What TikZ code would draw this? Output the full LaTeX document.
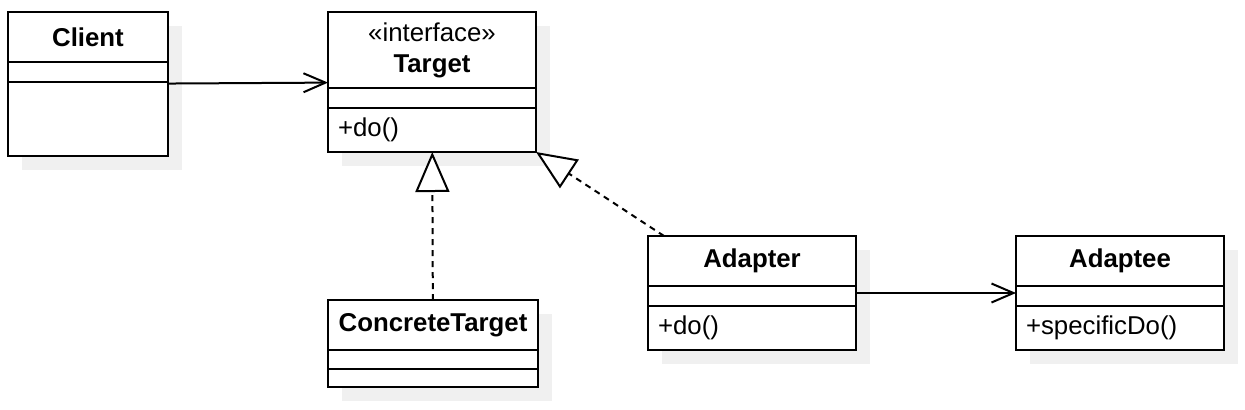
\documentclass[tikz,border=0pt]{standalone}
\usepackage{fontspec}
\setmainfont{Liberation Sans}
\usetikzlibrary{arrows.meta, positioning, shadows}

\begin{document}
\begin{tikzpicture}[
        x=0.5pt, y=-0.5pt,
        font=\fontsize{12.9pt}{15.5pt}\selectfont,
        classbox/.style={draw, fill=white, line width=1pt, inner sep=0pt, outer sep=0pt,
            drop shadow={shadow xshift=7pt, shadow yshift=-7pt, fill=black!6, opacity=1}},
        compart/.style={draw, line width=1pt, inner sep=0pt, outer sep=0pt},
        members/.style={inner xsep=5pt, inner ysep=0pt, outer sep=0pt, align=left},
        assoc/.style={line width=1pt, -{Straight Barb[length=11pt, width=9.5pt]}},
        realize/.style={line width=1pt, dash pattern=on 3pt off 2.5pt,
            -{Triangle[length=20pt, width=17pt, fill=white]}}
    ]
    \useasboundingbox (0,0) rectangle (1245,409);
    % Define classes
    \node[classbox, minimum width=80pt, minimum height=72pt] (client) at (88,84) {};
    \node[compart, minimum width=80pt, minimum height=25pt, below=0pt of client.north] (client-name) {\textbf{Client}};
    \node[compart, minimum width=80pt, minimum height=10pt, below=0pt of client-name] (client-attr) {};

    \node[classbox, minimum width=104pt, minimum height=70pt] (target) at (432,82) {};
    \node[compart, minimum width=104pt, minimum height=38pt, align=center, below=0pt of target.north] (target-name) {«interface»\\\textbf{Target}};
    \node[compart, minimum width=104pt, minimum height=10pt, below=0pt of target-name] (target-attr) {};
    \node[members, text width=94pt, minimum height=22pt, below=0pt of target-attr] (target-ops) {+do()};

    \node[classbox, minimum width=105pt, minimum height=43.5pt] (concrete) at (433,343.5) {};
    \node[compart, minimum width=105pt, minimum height=25pt, below=0pt of concrete.north] (concrete-name) {\textbf{ConcreteTarget}};
    \node[compart, minimum width=105pt, minimum height=9.5pt, below=0pt of concrete-name] (concrete-attr) {};

    \node[classbox, minimum width=104pt, minimum height=57pt] (adapter) at (752,293) {};
    \node[compart, minimum width=104pt, minimum height=25pt, below=0pt of adapter.north] (adapter-name) {\textbf{Adapter}};
    \node[compart, minimum width=104pt, minimum height=10pt, below=0pt of adapter-name] (adapter-attr) {};
    \node[members, text width=94pt, minimum height=22pt, below=0pt of adapter-attr] (adapter-ops) {+do()};

    \node[classbox, minimum width=104pt, minimum height=57pt] (adaptee) at (1120,293) {};
    \node[compart, minimum width=104pt, minimum height=25pt, below=0pt of adaptee.north] (adaptee-name) {\textbf{Adaptee}};
    \node[compart, minimum width=104pt, minimum height=10pt, below=0pt of adaptee-name] (adaptee-attr) {};
    \node[members, text width=94pt, minimum height=22pt, below=0pt of adaptee-attr] (adaptee-ops) {+specificDo()};
    % Draw relations
    \draw[assoc] (client) -- (target);
    \draw[realize] (concrete) -- (target);
    \draw[realize] ([xshift=8pt]adapter.north west) -- (target.south east);
    \draw[assoc] (adapter) -- (adaptee);
\end{tikzpicture}
\end{document}
